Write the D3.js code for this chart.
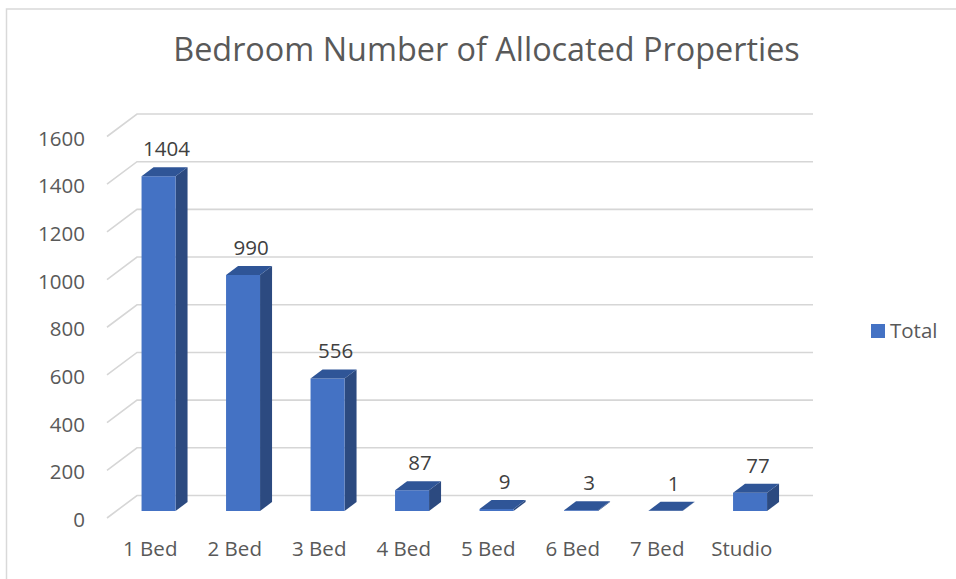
<!DOCTYPE html>
<html><head><meta charset="utf-8">
<script src="https://cdn.jsdelivr.net/npm/d3@7"></script>
<style>
html,body{margin:0;padding:0;background:#fff;}
svg{display:block;font-family:"Open Sans",sans-serif;}
</style></head>
<body>
<script>
const categories = ["1 Bed","2 Bed","3 Bed","4 Bed","5 Bed","6 Bed","7 Bed","Studio"];
const totals = [1404, 990, 556, 87, 9, 3, 1, 77];
const yTicks = [0,200,400,600,800,1000,1200,1400,1600];
const seriesName = "Total";
const titleText = "Bedroom Number of Allocated Properties";

const W = 956, H = 579;
const svg = d3.select("body").append("svg").attr("width", W).attr("height", H);

// chart border
svg.append("rect").attr("x",6.5).attr("y",9).attr("width",W).attr("height",H)
  .attr("fill","#fff").attr("stroke","#d9d9d9").attr("stroke-width",1.5);

// oblique 3D projection
const depthDX = 30, depthDY = -22.5;
const x = d3.scaleBand().domain(categories).range([107, 783]);
const yFront = d3.scaleLinear().domain([0,1600]).range([518, 136.5]);
function P(px, v, d){ return [px + d*depthDX, yFront(v) + d*depthDY]; }

// gridlines
const grid = svg.append("g");
yTicks.forEach(t=>{
  const a = P(x.range()[0], t, 0), b = P(x.range()[0], t, 1), c = P(x.range()[1], t, 1);
  grid.append("path").attr("d", `M${a[0]},${a[1]}L${b[0]},${b[1]}L${c[0]},${c[1]}`)
    .attr("fill","none").attr("stroke","#d6d6d6").attr("stroke-width",1.6);
});

// y tick labels
svg.append("g").selectAll("text").data(yTicks).join("text")
  .attr("x",85).attr("y",d=>yFront(d)+1).attr("text-anchor","end")
  .attr("dominant-baseline","central").attr("font-size",20.5).attr("fill","#595959")
  .text(d=>d);

// bars
const dFront = 0.31, dBack = 0.71, barW = 34;
const bars = svg.append("g");
categories.forEach((c,i)=>{
  const v = totals[i];
  const cx = x(c) + x.bandwidth()/2;
  const x0 = cx - barW/2, x1 = cx + barW/2;
  const f00 = P(x0,0,dFront), f10 = P(x1,0,dFront), f0v = P(x0,v,dFront), f1v = P(x1,v,dFront);
  const b10 = P(x1,0,dBack), b0v = P(x0,v,dBack), b1v = P(x1,v,dBack);
  bars.append("path").attr("d",`M${f10}L${b10}L${b1v}L${f1v}Z`).attr("fill","#2c4a80");
  bars.append("path").attr("d",`M${f00}L${f10}L${f1v}L${f0v}Z`).attr("fill","#4472c4");
  bars.append("path").attr("d",`M${f0v}L${f1v}L${b1v}L${b0v}Z`).attr("fill","#2f5597");
  const lp = P(cx, v, dBack);
  svg.append("text").attr("x",lp[0]-4).attr("y",lp[1]-11).attr("text-anchor","middle")
    .attr("font-size",20.5).attr("fill","#404040").text(v);
});

// category labels
svg.append("g").selectAll("text").data(categories).join("text")
  .attr("x",d=>x(d)+x.bandwidth()/2+1).attr("y",556).attr("text-anchor","middle")
  .attr("font-size",20.5).attr("fill","#595959").text(d=>d);

// title
const title = svg.append("text").attr("x",486.5).attr("y",61).attr("text-anchor","middle")
  .attr("font-size",31).attr("fill","#595959").text(titleText);
const tl = title.node().getComputedTextLength();
title.attr("font-size", 31*627/tl);

// legend
svg.append("rect").attr("x",871).attr("y",324).attr("width",14).attr("height",14).attr("fill","#4472c4");
svg.append("text").attr("x",890).attr("y",338).attr("font-size",20.5).attr("fill","#595959").text(seriesName);
</script>
</body></html>
